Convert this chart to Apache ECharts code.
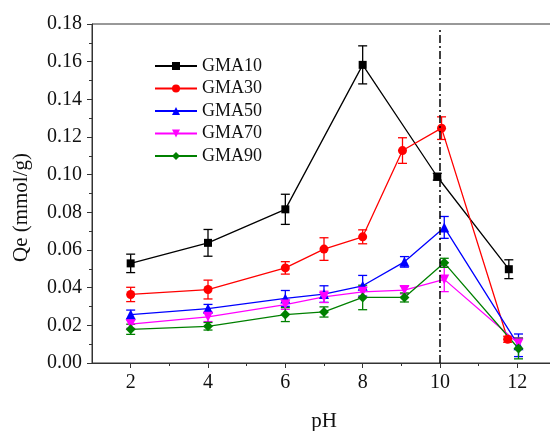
<!DOCTYPE html>
<html>
<head>
<meta charset="utf-8">
<script src="https://cdn.jsdelivr.net/npm/echarts@6/dist/echarts.min.js"></script>
<style>
  html, body { margin: 0; padding: 0; background: #fff; }
  #chart { width: 550px; height: 431px; }
</style>
</head>
<body>
<div id="chart"></div>
<script>
// values
const names = ['GMA10', 'GMA30', 'GMA50', 'GMA70', 'GMA90'];

const ph10 = [2, 4, 6, 8, 9.93, 11.78];
const qe10 = [0.0529, 0.0638, 0.0816, 0.1583, 0.0989, 0.0498];
const err10 = [0.0049, 0.0071, 0.008, 0.0101, 0.0018, 0.005];

const ph30 = [2, 4, 6, 7, 8, 9.03, 10.04, 11.75];
const qe30 = [0.0364, 0.039, 0.0505, 0.0605, 0.067, 0.1128, 0.1247, 0.0126];
const err30 = [0.0038, 0.005, 0.0033, 0.006, 0.0037, 0.0068, 0.006, 0.0016];

const ph50 = [2, 4, 6, 7, 8, 9.08, 10.11, 12.03];
const qe50 = [0.0257, 0.0289, 0.0343, 0.0366, 0.041, 0.0537, 0.072, 0.0094];
const err50 = [0.0024, 0.0022, 0.0042, 0.0044, 0.0055, 0.0028, 0.0058, 0.006];

const ph70 = [2, 4, 6, 7, 8, 9.08, 10.11, 12.03];
const qe70 = [0.0206, 0.0245, 0.031, 0.0351, 0.0378, 0.0387, 0.0444, 0.0103];
const err70 = [0.0022, 0.0025, 0.0025, 0.003, 0.0025, 0.002, 0.0065, 0.003];

const ph90 = [2, 4, 6, 7, 8, 9.08, 10.11, 12.03];
const qe90 = [0.0179, 0.0195, 0.0257, 0.0271, 0.0348, 0.0348, 0.0532, 0.0077];
const err90 = [0.0027, 0.002, 0.0037, 0.0027, 0.0065, 0.0024, 0.0024, 0.0055];

const xMajor = [2, 4, 6, 8, 10, 12];
const xMinor = [3, 5, 7, 9, 11];
const refPH = 10;

const colors = ['#000000', '#ff0000', '#0000ff', '#ff00ff', '#008000'];
const symbols = ['rect', 'circle', 'triangle', 'triangle', 'diamond'];
const symbolSizes = [8, 9, 10, 10, 10];
const rotations = [0, 0, 0, 180, 0];

const allX = [ph10, ph30, ph50, ph70, ph90];
const allY = [qe10, qe30, qe50, qe70, qe90];
const allE = [err10, err30, err50, err70, err90];

const font = 'Liberation Serif, Times New Roman, serif';

let chart = echarts.init(document.getElementById('chart'));

function errorBars(params, api) {
  const lo = api.coord([api.value(0), api.value(1)]);
  const hi = api.coord([api.value(0), api.value(2)]);
  const w = 4.5;
  const style = { stroke: api.visual('color'), lineWidth: 1.3 };
  return {
    type: 'group',
    children: [
      { type: 'line', shape: { x1: lo[0], y1: lo[1], x2: hi[0], y2: hi[1] }, style },
      { type: 'line', shape: { x1: lo[0] - w, y1: lo[1], x2: lo[0] + w, y2: lo[1] }, style },
      { type: 'line', shape: { x1: hi[0] - w, y1: hi[1], x2: hi[0] + w, y2: hi[1] }, style }
    ]
  };
}

let series = [];
names.forEach((n, i) => {
  series.push({
    name: n,
    type: 'line',
    data: allX[i].map((x, k) => [x, allY[i][k]]),
    symbol: symbols[i],
    symbolSize: symbolSizes[i],
    symbolRotate: rotations[i],
    showAllSymbol: true,
    lineStyle: { color: colors[i], width: 1.3 },
    itemStyle: { color: colors[i] },
    z: 3
  });
  series.push({
    name: n + ' error',
    type: 'custom',
    renderItem: errorBars,
    itemStyle: { color: colors[i] },
    encode: { x: 0, y: [1, 2] },
    data: allX[i].map((x, k) => [x, allY[i][k] - allE[i][k], allY[i][k] + allE[i][k]]),
    z: 2,
    silent: true
  });
});

series.push({
  type: 'line',
  data: [],
  markLine: {
    silent: true,
    symbol: 'none',
    label: { show: false },
    lineStyle: { color: '#000', width: 1.5, type: [8, 3, 2, 3] },
    data: [[{ coord: [refPH, 0] }, { coord: [refPH, 0.178] }]]
  }
});

let option = {
  animation: false,
  backgroundColor: '#fff',
  grid: {
    left: 92, top: 24, width: 464, bottom: 68,
    outerBoundsMode: 'none',
    containLabel: false,
    show: true, borderColor: '#333', borderWidth: 1
  },
  legend: {
    data: names,
    orient: 'vertical',
    left: 149,
    top: 52,
    itemWidth: 42,
    itemHeight: 10,
    itemGap: 4.5,
    textStyle: { fontFamily: font, fontSize: 18, color: '#111', lineHeight: 18 }
  },
  xAxis: [
    {
      type: 'value',
      min: 1, max: 13,
      name: 'pH',
      nameLocation: 'middle',
      nameGap: 48,
      nameTextStyle: { fontFamily: font, fontSize: 21, color: '#111' },
      axisLine: { lineStyle: { color: '#333', width: 1 } },
      axisTick: { show: true, length: 5, customValues: xMajor, lineStyle: { color: '#333' } },
      axisLabel: { customValues: xMajor, margin: 10, fontFamily: font, fontSize: 20, color: '#111' },
      splitLine: { show: false }
    },
    {
      type: 'value',
      min: 1, max: 13,
      position: 'bottom',
      axisLine: { show: false },
      axisTick: { show: true, length: 3, customValues: xMinor, lineStyle: { color: '#333' } },
      axisLabel: { show: false },
      splitLine: { show: false }
    }
  ],
  yAxis: {
    type: 'value',
    min: 0, max: 0.18, interval: 0.02,
    name: 'Qe (mmol/g)',
    nameLocation: 'middle',
    nameGap: 60,
    nameTextStyle: { fontFamily: font, fontSize: 21, color: '#111', padding: [0, 28, 0, 0] },
    axisLine: { show: true, lineStyle: { color: '#333', width: 1 } },
    axisTick: { show: true, length: 5, lineStyle: { color: '#333' } },
    minorTick: { show: true, splitNumber: 2, length: 3, lineStyle: { color: '#333' } },
    axisLabel: {
      margin: 10, fontFamily: font, fontSize: 20, color: '#111',
      formatter: v => v.toFixed(2)
    },
    splitLine: { show: false }
  },
  series: series
};

option && chart.setOption(option);
</script>
</body>
</html>
